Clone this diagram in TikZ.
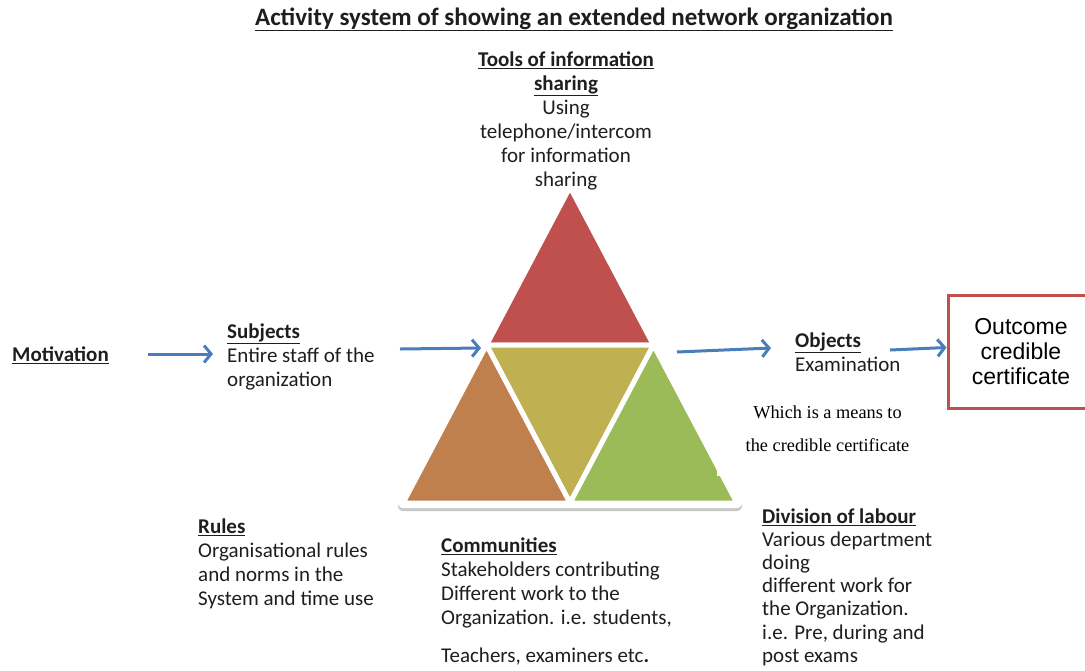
\documentclass[tikz,border=0pt]{standalone}
\usepackage{fontspec}
\setmainfont{Carlito}
\newfontfamily\timesfont{Liberation Serif}
\newfontfamily\arialfont{Liberation Sans}
\usetikzlibrary{arrows.meta}

\definecolor{toolred}{HTML}{C0504D}
\definecolor{objolive}{HTML}{BFB051}
\definecolor{rulebrown}{HTML}{C0804E}
\definecolor{divgreen}{HTML}{9BBB59}
\definecolor{arrowblue}{HTML}{4A7EBB}
\definecolor{txt}{HTML}{1E1E1E}

\newcommand{\head}[1]{\underline{\textbf{#1}}}

\tikzset{
  flow/.style={draw=arrowblue, line width=3pt, -{Straight Barb[length=7pt,width=17pt]}},
  body/.style={font=\fontsize{21}{24}\selectfont, text=txt, align=left, anchor=north west, inner sep=0pt},
  part/.style={draw=white, line width=5pt, line join=round},
}

\begin{document}
\begin{tikzpicture}[x=1pt,y=-1pt]
\useasboundingbox (0,0) rectangle (1085,670);

% title
\node[font=\fontsize{25}{28}\selectfont\bfseries, text=txt, anchor=base, inner sep=0pt] (title) at (574,25) {\underline{Activity system of showing an extended network organization}};

% the triangle and its four parts
\coordinate (A) at (570,187);
\coordinate (B) at (403,503);
\coordinate (C) at (737,503);
\coordinate (AB) at (486.5,345);
\coordinate (AC) at (653.5,345);
\coordinate (BC) at (570,503);
\filldraw[black, opacity=0.22, line width=10pt, line join=round] ([yshift=-3pt]A) -- ([yshift=-3pt]B) -- ([yshift=-3pt]C) -- cycle;
\filldraw[white, line width=10pt, line join=round] (A) -- (B) -- (C) -- cycle;
\filldraw[part, fill=toolred] (A) -- (AB) -- (AC) -- cycle;
\filldraw[part, fill=objolive] (AB) -- (AC) -- (BC) -- cycle;
\filldraw[part, fill=rulebrown] (AB) -- (B) -- (BC) -- cycle;
\filldraw[part, fill=divgreen] (AC) -- (BC) -- (C) -- cycle;
\fill[white] (717,457) rectangle (727,476);

% labels round the triangle
\node[body, align=center, anchor=north] (tools) at (566,49.2) {\strut\head{Tools of information}\\\head{sharing}\\Using\\telephone/intercom\\for information\\sharing};
\node[body] (mot) at (12,344.2) {\strut\head{Motivation}};
\node[body] (subj) at (227,321.2) {\strut\head{Subjects}\\Entire staff of the\\organization};
\node[body] (obj) at (795,330.2) {\strut\head{Objects}\\Examination};
\node[font=\timesfont\fontsize{18.3}{33.5}\selectfont, text=black, align=center, anchor=north, inner sep=0pt] (means) at (827.5,394.5) {\strut Which is a means to\\the credible certificate};
\node[body] (rules) at (198,516.2) {\strut\head{Rules}\\Organisational rules\\and norms in the\\System and time use};
\node[body] (comm) at (441,535.2) {\strut\head{Communities}\\Stakeholders contributing\\Different work to the\\Organization. i.e. students,\\[14pt]Teachers, examiners etc\textbf{.}};
\node[body, font=\fontsize{21}{23.2}\selectfont] (div) at (762,506.7) {\strut\head{Division of labour}\\Various department\\doing\\different work for\\the Organization.\\i.e. Pre, during and\\post exams};

% outcome
\node[draw=toolred, line width=3pt, minimum width=146pt, minimum height=113pt, font=\arialfont\fontsize{23}{25}\selectfont, text=black, align=center] (out) at (1021,351.5) {Outcome\\credible\\certificate};

% arrows
\coordinate (m1) at (148,354);
\coordinate (m2) at (213,354);
\coordinate (s1) at (400,349);
\coordinate (s2) at (481,348);
\coordinate (o1) at (677,352);
\coordinate (o2) at (771,348);
\coordinate (e1) at (890,350);
\draw[flow] (m1) -- (m2);
\draw[flow] (s1) -- (s2);
\draw[flow] (o1) -- (o2);
\draw[flow] (e1) -- ([yshift=4pt]out.west);

\end{tikzpicture}
\end{document}
